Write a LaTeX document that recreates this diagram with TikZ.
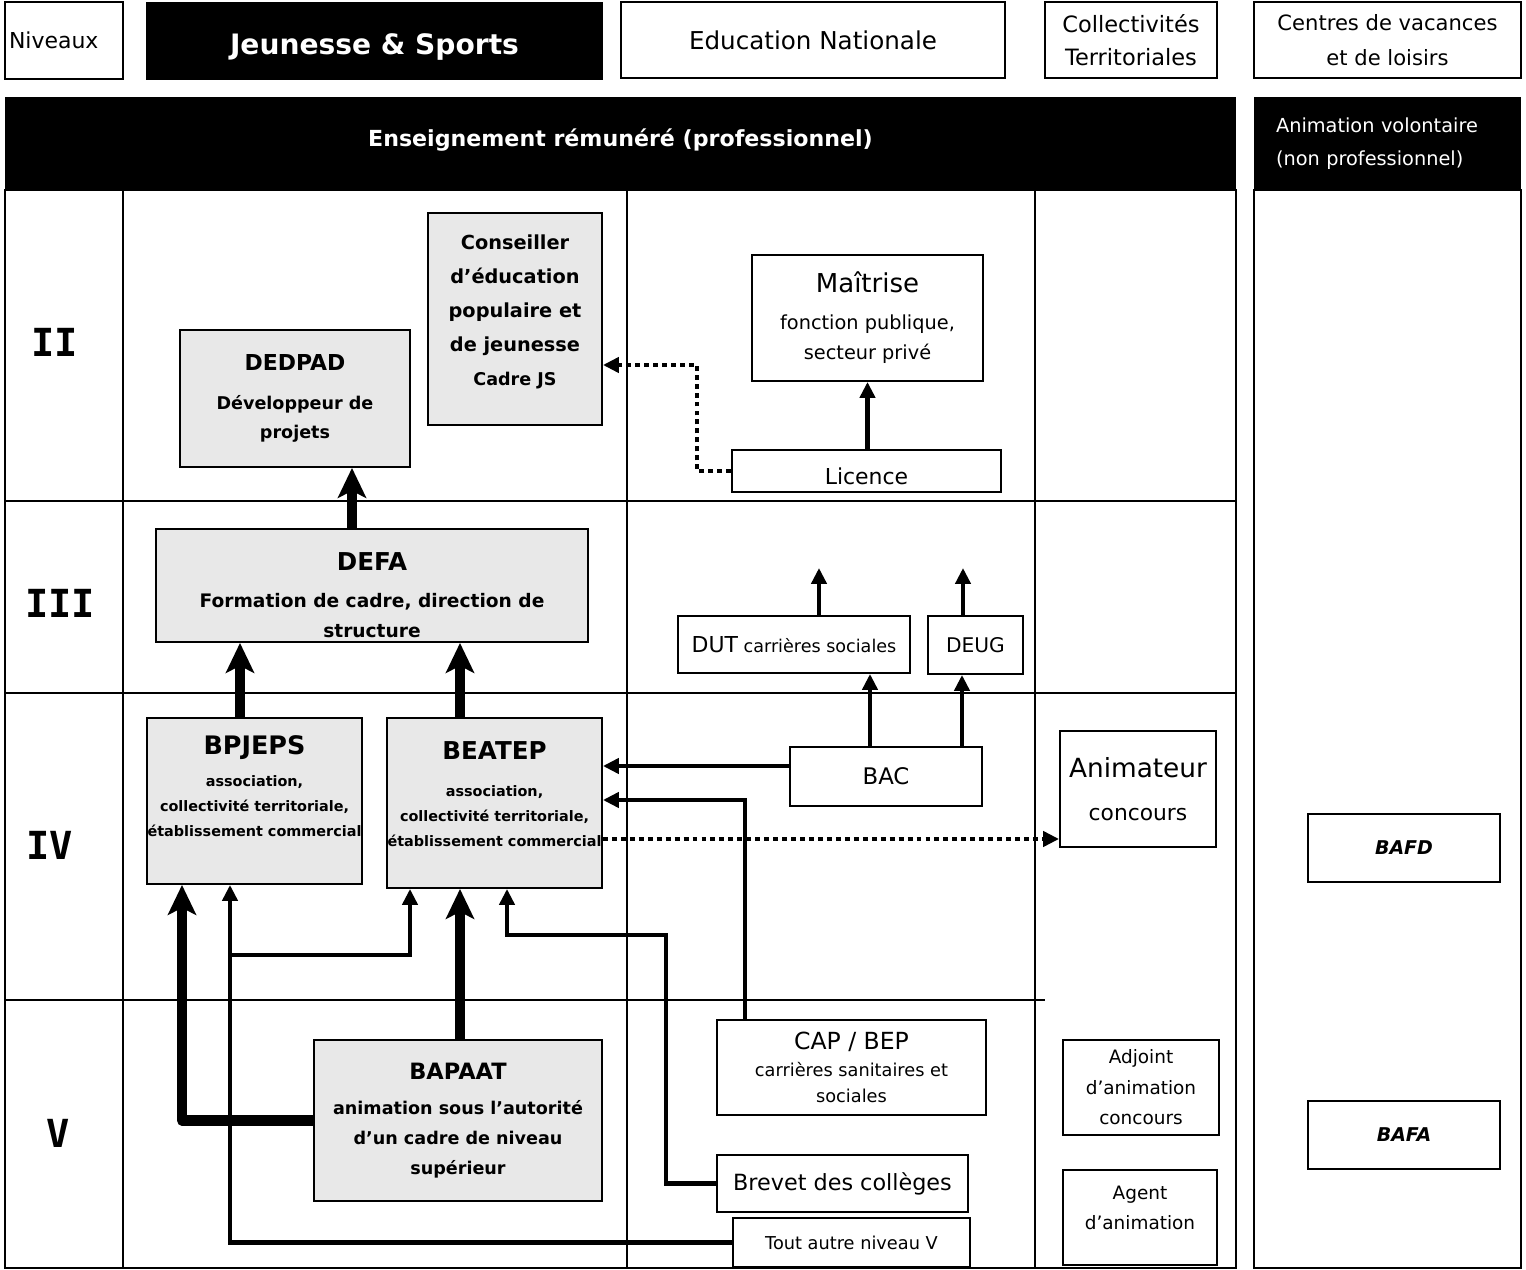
\documentclass[tikz,border=0pt]{standalone}
\usepackage{fontspec}
\setmainfont{DejaVu Sans}
\newfontfamily\levelfont{DejaVu Sans Mono}
\usetikzlibrary{positioning,arrows.meta,calc}
\definecolor{boxGray}{RGB}{232,232,232}
\tikzstyle{head} = [rectangle, draw=black, line width=1.1pt, inner sep=0pt, align=center]
\tikzstyle{headBlack} = [rectangle, fill=black, text=white, inner sep=0pt, align=center]
\tikzstyle{box} = [rectangle, draw=black, line width=1.1pt, inner sep=0pt, align=center]
\tikzstyle{grayBox} = [box, fill=boxGray]
\tikzstyle{level} = [font=\levelfont\bfseries\fontsize{22}{24}\selectfont]
\tikzstyle{gridLine} = [line width=1.1pt]
\tikzstyle{bigArrow} = [line width=5.7pt, line join=round, -{Stealth[length=17pt,width=16pt,inset=4pt]}]
\tikzstyle{arrow} = [line width=2.6pt, -{Triangle[length=9pt,width=8.5pt]}]
\tikzstyle{dotArrow} = [line width=2.8pt, dash pattern=on 2.8pt off 2.3pt, -{Triangle[length=9pt,width=8.5pt]}]

\begin{document}
\begin{tikzpicture}[x=0.02cm, y=-0.02cm]
\useasboundingbox (0,0) rectangle (1526,1270);

% table
\draw [gridLine] (5,190) rectangle (1236,1268);
\foreach \x in {123,627,1035}
	\draw [gridLine] (\x,190) -- (\x,1268);
\foreach \y in {501,693}
	\draw [gridLine] (5,\y) -- (1236,\y);
\draw [gridLine] (5,1000) -- (1045,1000);
\draw [line width=1.6pt] (1254,190) rectangle (1521,1268);

% headers
\node(Niveaux)		[head, minimum width=2.36cm, minimum height=1.54cm, text width=2.2cm, align=left,
					font=\fontsize{12.5}{15}\selectfont] at (64,40.5)
							{Niveaux};
\node(Jeunesse)		[headBlack, minimum width=9.14cm, minimum height=1.56cm, text height=19pt,
					font=\bfseries\fontsize{16}{19}\selectfont] at (374.5,41)
							{Jeunesse \& Sports};
\node(EducNat)		[head, minimum width=7.68cm, minimum height=1.52cm,
					font=\fontsize{14}{17}\selectfont] at (813,40)
							{Education Nationale};
\node(Collect)		[head, minimum width=3.44cm, minimum height=1.52cm,
					font=\fontsize{12.8}{19}\selectfont] at (1131,40)
							{Collectivités\\Territoriales};
\node(Centres)		[head, minimum width=5.34cm, minimum height=1.52cm,
					font=\fontsize{12}{20}\selectfont] at (1387.5,40)
							{Centres de vacances\\et de loisirs};
\node(Remunere)		[headBlack, minimum width=24.62cm, minimum height=1.86cm, text depth=6.8pt,
					font=\bfseries\fontsize{12.6}{15}\selectfont] at (620.5,143.5)
							{Enseignement rémunéré (professionnel)};
\node(Volontaire)	[headBlack, minimum width=5.34cm, minimum height=1.86cm, text width=4.46cm, align=left,
					font=\fontsize{11}{19}\selectfont] at (1387.5,143.5)
							{Animation volontaire\\(non professionnel)};

% levels
\node(LevelII)		[level] at (55,342)		{II};
\node(LevelIII)		[level] at (60,603)		{III};
\node(LevelIV)		[level] at (50,845)		{IV};
\node(LevelV)		[level] at (58,1133)	{V};

% level II
\node(DEDPAD)		[grayBox, minimum width=4.6cm, minimum height=2.74cm,
					font=\bfseries\fontsize{10}{17}\selectfont] at (295,398.5)
							{{\fontsize{12.5}{15}\selectfont DEDPAD}\\[5pt]Développeur de\\projets};
\node(Conseiller)	[grayBox, minimum width=3.48cm, minimum height=4.24cm, text depth=10pt,
					font=\bfseries\fontsize{11}{19.3}\selectfont] at (515,319)
							{Conseiller\\d'éducation\\populaire et\\de jeunesse\\{\fontsize{10}{12}\selectfont Cadre JS}};
\node(Maitrise)		[box, minimum width=4.62cm, minimum height=2.52cm,
					font=\fontsize{11}{17.6}\selectfont] at (867.5,318)
							{{\fontsize{14.8}{17}\selectfont Maîtrise}\\[3pt]fonction publique,\\secteur privé};
\node(Licence)		[box, minimum width=5.38cm, minimum height=0.84cm, text height=16pt,
					font=\fontsize{12.5}{15}\selectfont] at (866.5,471)
							{Licence};

% level III
\node(DEFA)			[grayBox, minimum width=8.64cm, minimum height=2.26cm, text height=59pt,
					font=\bfseries\fontsize{10.6}{17}\selectfont] at (372,585.5)
							{{\fontsize{14}{16}\selectfont DEFA}\\[4pt]Formation de cadre, direction de\\structure};
\node(DUT)			[box, minimum width=4.64cm, minimum height=1.14cm,
					font=\fontsize{10}{12}\selectfont] at (794,644.5)
							{{\fontsize{12.5}{14}\selectfont DUT} carrières sociales};
\node(DEUG)			[box, minimum width=1.9cm, minimum height=1.16cm,
					font=\fontsize{11.5}{14}\selectfont] at (975.5,645)
							{DEUG};

% level IV
\node(BPJEPS)		[grayBox, minimum width=4.3cm, minimum height=3.32cm, text depth=17pt,
					font=\bfseries\fontsize{8.2}{14.2}\selectfont] at (254.5,801)
							{{\fontsize{14.5}{16}\selectfont BPJEPS}\\[4.5pt]association,\\collectivité territoriale,\\établissement commercial};
\node(BEATEP)		[grayBox, minimum width=4.3cm, minimum height=3.4cm, text depth=10pt,
					font=\bfseries\fontsize{8.2}{14.2}\selectfont] at (494.5,803)
							{{\fontsize{14}{16}\selectfont BEATEP}\\[7pt]association,\\collectivité territoriale,\\établissement commercial};
\node(BAC)			[box, minimum width=3.84cm, minimum height=1.18cm,
					font=\fontsize{13}{15}\selectfont] at (886,776.5)
							{BAC};
\node(Animateur)	[box, minimum width=3.12cm, minimum height=2.32cm,
					font=\fontsize{12.4}{24.4}\selectfont] at (1138,789)
							{{\fontsize{15}{18}\selectfont Animateur}\\concours};

% level V
\node(BAPAAT)		[grayBox, minimum width=5.76cm, minimum height=3.22cm,
					font=\bfseries\fontsize{10}{17}\selectfont] at (458,1120.5)
							{{\fontsize{12.8}{15}\selectfont BAPAAT}\\[3.4pt]animation sous l’autorité\\d’un cadre de niveau\\supérieur};
\node(CAP)			[box, minimum width=5.38cm, minimum height=1.9cm,
					font=\fontsize{10.1}{14.7}\selectfont] at (851.5,1067.5)
							{{\fontsize{13.4}{15}\selectfont CAP / BEP}\\[0.6pt]carrières sanitaires et\\sociales};
\node(Brevet)		[box, minimum width=5.02cm, minimum height=1.14cm,
					font=\fontsize{12.7}{15}\selectfont] at (842.5,1183.5)
							{Brevet des collèges};
\node(Tout)			[box, minimum width=4.74cm, minimum height=0.98cm,
					font=\fontsize{10.1}{12}\selectfont] at (851.5,1242.5)
							{Tout autre niveau V};
\node(Adjoint)		[box, minimum width=3.12cm, minimum height=1.9cm,
					font=\fontsize{10.5}{17.3}\selectfont] at (1141,1087.5)
							{Adjoint\\d’animation\\concours};
\node(Agent)		[box, minimum width=3.08cm, minimum height=1.9cm, text depth=11.4pt,
					font=\fontsize{10.5}{17}\selectfont] at (1140,1217.5)
							{Agent\\d’animation};

% animation volontaire
\node(BAFD)			[box, minimum width=3.84cm, minimum height=1.36cm,
					font=\bfseries\itshape\fontsize{10.8}{13}\selectfont] at (1404,848)
							{BAFD};
\node(BAFA)			[box, minimum width=3.84cm, minimum height=1.36cm,
					font=\bfseries\itshape\fontsize{10.8}{13}\selectfont, below=4.34cm of BAFD.south, anchor=north]
							{BAFA};

% columns and rows of the connectors
\coordinate (colDedpad)	at (352,0);
\coordinate (colBpjeps)	at (240,0);
\coordinate (colBeatep)	at (460,0);
\coordinate (colBapaat)	at (182,0);
\coordinate (colTout)	at (230,0);
\coordinate (colBranch)	at (410,0);
\coordinate (colBrevet)	at (507,0);
\coordinate (colBacDut)	at (870,0);
\coordinate (colBacDeug) at (962,0);
\coordinate (rowBac)	at (0,766);
\coordinate (rowAnim)	at (0,839);
\coordinate (dotTurn)	at (697,365);
\coordinate (capTurn)	at (745,800);
\coordinate (brevetTurn) at (666,935);
\coordinate (branchTout) at (230,955);
\coordinate (dutUp)		at (819,568);
\coordinate (deugUp)	at (963,568);

\draw [bigArrow]	(DEFA.north -| colDedpad) -- (DEDPAD.south -| colDedpad);
\draw [bigArrow]	(BPJEPS.north -| colBpjeps) -- (DEFA.south -| colBpjeps);
\draw [bigArrow]	(BEATEP.north -| colBeatep) -- (DEFA.south -| colBeatep);
\draw [bigArrow]	(BAPAAT.north -| colBeatep) -- (BEATEP.south -| colBeatep);
\draw [bigArrow]	(BAPAAT.west) -| (BPJEPS.south -| colBapaat);

\draw [arrow]		(Licence.north -| Maitrise.south) -- (Maitrise.south);
\draw [dotArrow]	(Licence.west) -| (dotTurn) -- (Conseiller.east |- dotTurn);

\draw [arrow]		(DUT.north -| dutUp) -- (dutUp);
\draw [arrow]		(DEUG.north -| deugUp) -- (deugUp);
\draw [arrow]		(BAC.north -| colBacDut) -- (DUT.south -| colBacDut);
\draw [arrow]		(BAC.north -| colBacDeug) -- (DEUG.south -| colBacDeug);
\draw [arrow]		(BAC.west |- rowBac) -- (BEATEP.east |- rowBac);
\draw [arrow]		(CAP.north -| capTurn) |- (BEATEP.east |- capTurn);
\draw [dotArrow]	(BEATEP.east |- rowAnim) -- (Animateur.west |- rowAnim);

\draw [arrow]		(Tout.west) -| (BPJEPS.south -| colTout);
\draw [arrow]		(branchTout) -| (BEATEP.south -| colBranch);
\draw [arrow]		(Brevet.west) -| (brevetTurn) -| (BEATEP.south -| colBrevet);

\end{tikzpicture}
\end{document}
